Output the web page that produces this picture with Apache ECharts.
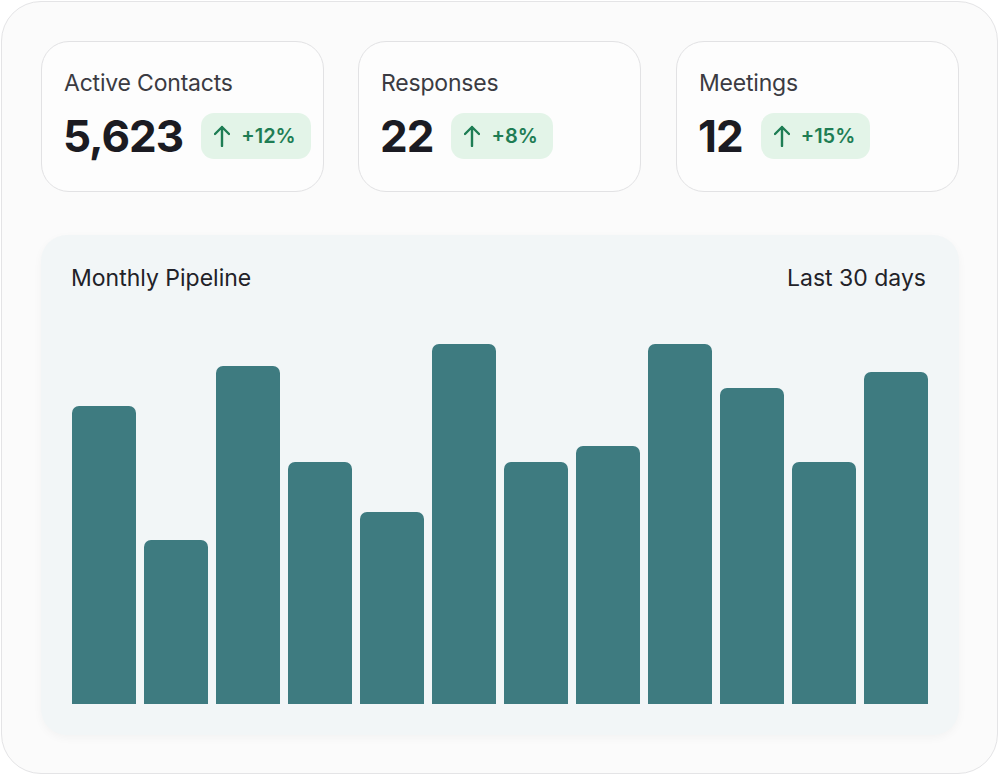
<!DOCTYPE html>
<html>
<head>
<meta charset="utf-8">
<script src="https://cdn.jsdelivr.net/npm/echarts@6/dist/echarts.min.js"></script>
<style>
  html, body { margin: 0; padding: 0; background: #ffffff; }
  body { width: 1000px; height: 776px; position: relative; overflow: hidden; font-family: Inter, "Noto Sans", sans-serif; }
  .frame { position: absolute; left: 1px; top: 1px; width: 995px; height: 771px; border: 1.5px solid #e4e4e6; border-radius: 40px; background: #fbfbfb; }
  .card { position: absolute; top: 41px; width: 281px; height: 149px; border: 1.5px solid #e2e2e4; border-radius: 28px; background: #fdfdfd; }
  .label { position: absolute; left: 22px; top: 27px; font-size: 23px; color: #3b3b42; letter-spacing: -0.2px; }
  .row { position: absolute; left: 21px; top: 71px; display: flex; align-items: center; }
  .num { font-size: 44px; font-weight: 700; color: #1b1b22; letter-spacing: -1px; line-height: 46px; }
  .badge { margin-left: 18px; height: 46px; border-radius: 13px; background: #e3f4e8; color: #1e7d54; display: flex; align-items: center; padding: 0 15px 0 13px; font-size: 20px; font-weight: 600; }
  .badge svg { margin-right: 11px; }
  #chart { position: absolute; left: 41px; top: 235px; width: 918px; height: 500px; border-radius: 26px; background: #f2f6f7; box-shadow: 0 3px 10px rgba(0,0,0,0.035); overflow: hidden; }
</style>
</head>
<body>
<div class="frame"></div>
<div id="cards"></div>
<div id="chart"></div>
<script>
  // ---- data ----
  const statLabels = ["Active Contacts", "Responses", "Meetings"];
  const statValues = ["5,623", "22", "12"];
  const statChanges = ["+12%", "+8%", "+15%"];
  const chartTitle = "Monthly Pipeline";
  const chartPeriod = "Last 30 days";
  const categories = ["1", "2", "3", "4", "5", "6", "7", "8", "9", "10", "11", "12"];
  const pipelineValues = [74.5, 41, 84.5, 60.5, 48, 90, 60.5, 64.5, 90, 79, 60.5, 83];

  // ---- stat cards ----
  const cardLefts = [41, 358, 676];
  const cardsEl = document.getElementById('cards');
  statLabels.forEach(function (lab, i) {
    const c = document.createElement('div');
    c.className = 'card';
    c.style.left = cardLefts[i] + 'px';
    c.innerHTML =
      '<div class="label">' + lab + '</div>' +
      '<div class="row"><div class="num">' + statValues[i] + '</div>' +
      '<div class="badge"><svg width="16" height="22" viewBox="0 0 16 22"><path d="M8 21 V2 M1 9 L8 2 L15 9" fill="none" stroke="#1e7d54" stroke-width="2.4" stroke-linecap="round" stroke-linejoin="round"/></svg>' +
      statChanges[i] + '</div></div>';
    cardsEl.appendChild(c);
  });

  // ---- chart ----
  const chart = echarts.init(document.getElementById('chart'), null, { renderer: 'svg' });
  const tStyle = { fontFamily: 'Inter, "Noto Sans", sans-serif', fontSize: 23, fontWeight: 400, color: '#222228' };
  chart.setOption({
    backgroundColor: 'transparent',
    animation: false,
    title: [
      { text: chartTitle, left: 30, top: 31, padding: 0, textStyle: tStyle },
      { text: chartPeriod, right: 33, top: 31, padding: 0, textStyle: tStyle }
    ],
    grid: { left: 27, top: 69, width: 864, height: 400, containLabel: false },
    xAxis: {
      type: 'category', data: categories,
      axisLine: { show: false }, axisTick: { show: false }, axisLabel: { show: false }, splitLine: { show: false }
    },
    yAxis: {
      type: 'value', min: 0, max: 100,
      axisLine: { show: false }, axisTick: { show: false }, axisLabel: { show: false }, splitLine: { show: false }
    },
    series: [{
      type: 'bar', data: pipelineValues, barWidth: 64,
      itemStyle: { color: '#3e7b80', borderRadius: [7, 7, 0, 0] },
      silent: true
    }]
  });
</script>
</body>
</html>
